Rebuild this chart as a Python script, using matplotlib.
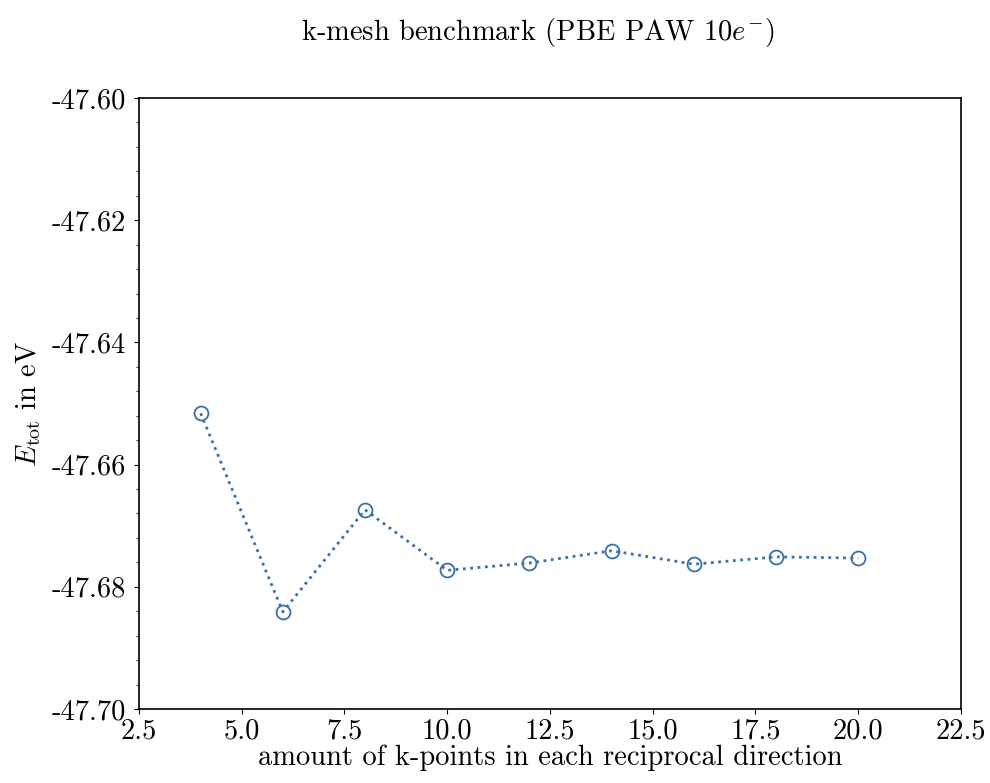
import numpy as np
import matplotlib.pyplot as plt
from matplotlib.ticker import FormatStrFormatter, AutoMinorLocator

plt.rcParams['font.family'] = 'cmr10'
plt.rcParams['mathtext.fontset'] = 'cm'
plt.rcParams['axes.formatter.use_mathtext'] = True

# total energy vs. k-mesh density
kpoints = np.array([4, 6, 8, 10, 12, 14, 16, 18, 20])
etot = np.array([-47.6516, -47.6841, -47.6674, -47.6773, -47.6761,
                 -47.6741, -47.6763, -47.6751, -47.6753])

fig = plt.figure(figsize=(9.9, 7.83), dpi=100)
ax = fig.add_axes([0.1404, 0.0945, 0.8303, 0.7803])

ax.plot(kpoints, etot, ':', color='#3b6fa8', linewidth=2,
        marker='o', markersize=10, markerfacecolor='none', markeredgewidth=1.3)

ax.set_xlim(2.5, 22.5)
ax.set_ylim(-47.70, -47.60)
ax.set_xticks(np.arange(2.5, 22.6, 2.5))
ax.set_yticks(np.arange(-47.70, -47.599, 0.02))
ax.xaxis.set_major_formatter(FormatStrFormatter('%.1f'))
ax.yaxis.set_major_formatter(FormatStrFormatter('%.2f'))
ax.yaxis.set_minor_locator(AutoMinorLocator(5))
ax.tick_params(labelsize=20.5)
ax.tick_params(axis='y', pad=6)
ax.tick_params(axis='x', pad=3)
for s in ax.spines.values():
    s.set_linewidth(1.2)

ax.set_xlabel('amount of k-points in each reciprocal direction', fontsize=20.5, labelpad=0)
ax.set_ylabel(r'$E_{\rm tot}$ in eV', fontsize=20.5, labelpad=6)
fig.suptitle(r'k-mesh benchmark (PBE PAW 10$e^{-}$)', fontsize=20.5, x=0.5434, y=0.98)

fig.savefig('out.png')
